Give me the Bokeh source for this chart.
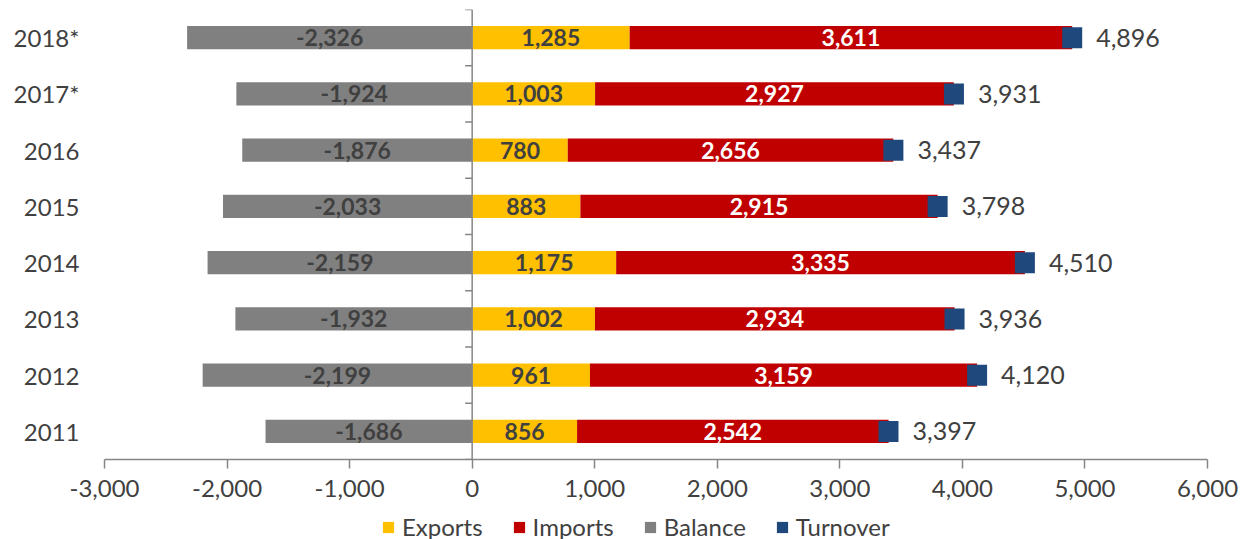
import math
from bokeh.plotting import figure
from bokeh.layouts import column
from bokeh.models import (ColumnDataSource, FixedTicker, NumeralTickFormatter, Span,
                          Legend, LegendItem, Range1d)
from bokeh.core.properties import value
from bokeh.embed import file_html
from bokeh.resources import INLINE

years = ["2011", "2012", "2013", "2014", "2015", "2016", "2017*", "2018*"]
exports = [856, 961, 1002, 1175, 883, 780, 1003, 1285]
imports = [2542, 3159, 2934, 3335, 2915, 2656, 2927, 3611]
balance = [-1686, -2199, -1932, -2159, -2033, -1876, -1924, -2326]
turnover = [3397, 4120, 3936, 4510, 3798, 3437, 3931, 4896]
x_ticks = [-3000, -2000, -1000, 0, 1000, 2000, 3000, 4000, 5000, 6000]

C_EXP = "#FFC000"
C_IMP = "#C00000"
C_BAL = "#808080"
C_TUR = "#1F497D"
TXT = "#404040"
FONT = "Lato"

idx = list(range(len(years)))
src = ColumnDataSource(dict(
    y=idx,
    exports=exports,
    imports=imports,
    imp_end=[e + i for e, i in zip(exports, imports)],
    balance=balance,
    turnover=turnover,
    bal_mid=[b / 2 for b in balance],
    exp_mid=[e / 2 for e in exports],
    imp_mid=[e + i / 2 for e, i in zip(exports, imports)],
    bal_lbl=[f"{b:,}" for b in balance],
    exp_lbl=[f"{e:,}" for e in exports],
    imp_lbl=[f"{i:,}" for i in imports],
    tur_lbl=[f"{t:,}" for t in turnover],
))

p = figure(
    output_backend="svg", toolbar_location=None,
    width=1245, height=511,
    min_border_left=104, min_border_right=38, min_border_top=9, min_border_bottom=52,
    x_range=Range1d(x_ticks[0], x_ticks[-1]),
    y_range=Range1d(-0.5, len(years) - 0.5),
    tools="",
)
p.outline_line_color = None
p.xgrid.grid_line_color = None
p.ygrid.grid_line_color = None

H = 0.41
p.hbar(y="y", left=0, right="balance", height=H, source=src, fill_color=C_BAL, line_color=None)
p.hbar(y="y", left=0, right="exports", height=H, source=src, fill_color=C_EXP, line_color=None)
p.hbar(y="y", left="exports", right="imp_end", height=H, source=src, fill_color=C_IMP, line_color=None)
p.rect(x="turnover", y="y", width=20, height=21, width_units="screen", height_units="screen",
       source=src, fill_color=C_TUR, line_color=None)

# zero line with category tick marks
p.add_layout(Span(location=0, dimension="height", line_color="#868686", line_width=1.5))
bounds = [i - 0.5 for i in range(len(years) + 1)]
p.ray(x=[0] * len(bounds), y=bounds, length=7, length_units="screen", angle=math.pi,
      line_color="#868686", line_width=1.5)

common = dict(source=src, text_baseline="middle", text_font=value(FONT))
p.text(x="bal_mid", y="y", text="bal_lbl", text_align="center", text_color=TXT,
       text_font_style="bold", text_font_size="23px", **common)
p.text(x="exp_mid", y="y", text="exp_lbl", text_align="center", text_color=TXT,
       text_font_style="bold", text_font_size="23px", **common)
p.text(x="imp_mid", y="y", text="imp_lbl", text_align="center", text_color="white",
       text_font_style="bold", text_font_size="23px", **common)
p.text(x="turnover", y="y", text="tur_lbl", text_align="left", x_offset=24, text_color=TXT,
       text_font_size="25px", **common)

# x axis
xa = p.xaxis[0]
xa.ticker = FixedTicker(ticks=x_ticks)
xa.formatter = NumeralTickFormatter(format="0,0")
xa.axis_line_color = "#868686"
xa.axis_line_width = 1.5
xa.major_tick_line_color = "#868686"
xa.major_tick_line_width = 1.5
xa.major_tick_out = 9
xa.major_tick_in = 0
xa.minor_tick_line_color = None
xa.minor_tick_out = 0
xa.major_label_standoff = 11
xa.major_label_text_font = FONT
xa.major_label_text_font_size = "24px"
xa.major_label_text_color = TXT

# y axis (category labels)
ya = p.yaxis[0]
ya.ticker = FixedTicker(ticks=idx)
ya.major_label_overrides = {i: y for i, y in zip(idx, years)}
ya.axis_line_color = None
ya.major_tick_line_color = None
ya.minor_tick_line_color = None
ya.major_tick_out = 0
ya.major_tick_in = 0
ya.minor_tick_out = 0
ya.major_label_standoff = 25
ya.major_label_text_font = FONT
ya.major_label_text_font_size = "24px"
ya.major_label_text_color = TXT

# legend strip (separate figure so the legend sits below the axis labels)
q = figure(
    output_backend="svg", toolbar_location=None,
    width=1245, height=28, min_border=0,
    x_axis_type=None, y_axis_type=None,
    x_range=Range1d(0, 1), y_range=Range1d(0, 1), tools="",
)
q.outline_line_color = None
q.xgrid.grid_line_color = None
q.ygrid.grid_line_color = None
l_exp = q.hbar(y="y", left=0, right="exports", height=H, source=src, fill_color=C_EXP,
               line_color=None, visible=False)
l_imp = q.hbar(y="y", left="exports", right="imp_end", height=H, source=src, fill_color=C_IMP,
               line_color=None, visible=False)
l_bal = q.hbar(y="y", left=0, right="balance", height=H, source=src, fill_color=C_BAL,
               line_color=None, visible=False)
l_tur = q.hbar(y="y", left=0, right="turnover", height=H, source=src, fill_color=C_TUR,
               line_color=None, visible=False)

legend = Legend(items=[
    LegendItem(label="Exports", renderers=[l_exp]),
    LegendItem(label="Imports", renderers=[l_imp]),
    LegendItem(label="Balance", renderers=[l_bal]),
    LegendItem(label="Turnover", renderers=[l_tur]),
], orientation="horizontal", location=(277, -2))
legend.border_line_color = None
legend.background_fill_alpha = 0
legend.padding = 0
legend.margin = 0
legend.spacing = 29
legend.glyph_width = 14
legend.glyph_height = 14
legend.label_standoff = 7
legend.label_text_font = FONT
legend.label_text_font_size = "24px"
legend.label_text_color = TXT
q.add_layout(legend, "center")

layout = column(p, q, spacing=0)
open("out.html", "w").write(file_html(layout, INLINE))
